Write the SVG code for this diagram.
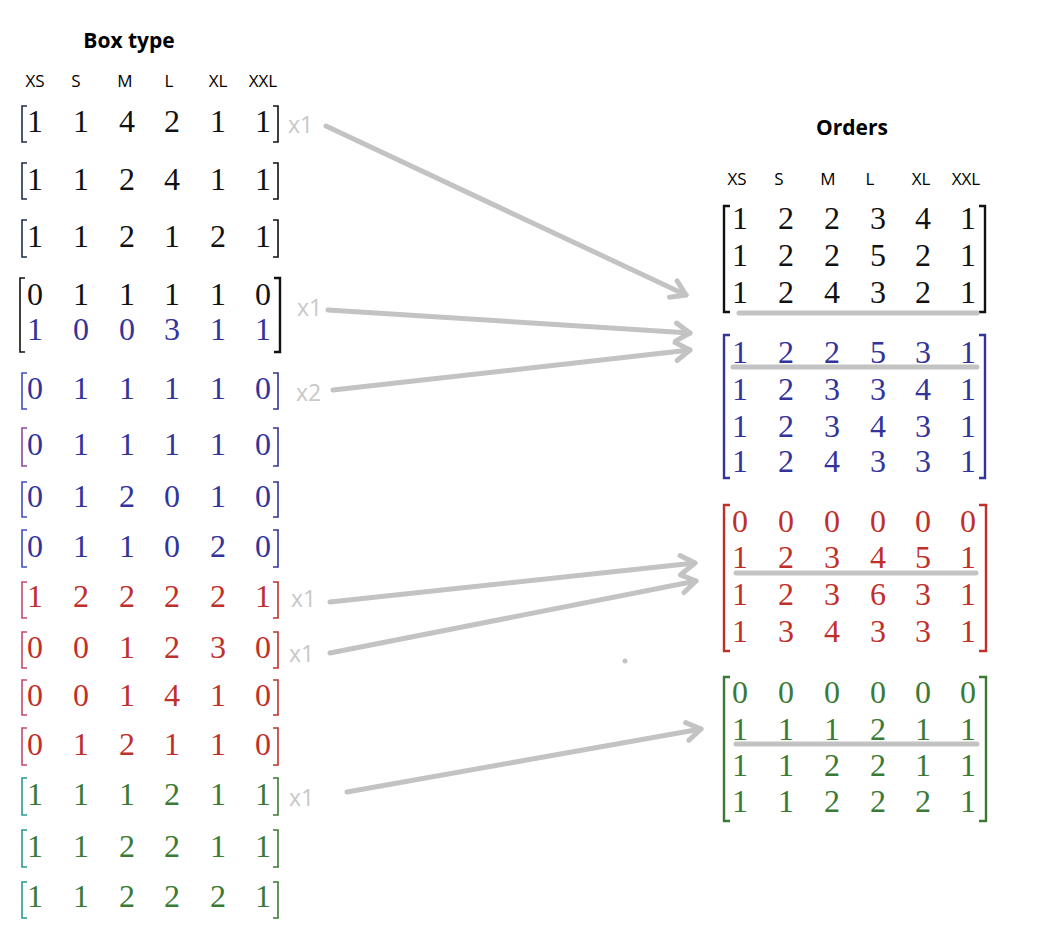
<svg xmlns="http://www.w3.org/2000/svg" width="1064" height="930" viewBox="0 0 1064 930">
<style>
.title{font-family:"Open Sans","Liberation Sans",sans-serif;font-weight:bold;font-size:21px;fill:#000;text-anchor:middle}
.hd{font-family:"Open Sans","Liberation Sans",sans-serif;font-size:17px;fill:#000;text-anchor:middle}
.num text{font-family:"Liberation Serif","DejaVu Serif",serif;font-size:32px;text-anchor:middle}
.num text.mult{font-family:"Open Sans","Liberation Sans",sans-serif;font-size:23px;fill:#c8c8c8;text-anchor:start}
.br{fill:none;stroke-width:1.6}
.k text{fill:#111}.k .br{stroke:#111}.k .lb{stroke:#1e2e50}
.b text{fill:#33339c}.b .br{stroke:#33339c}.b .lb{stroke:#3d4fc0}
.b2 .lb{stroke:#8a4aa0}
.r text{fill:#c0302a}.r .br{stroke:#c0302a}.r .lb{stroke:#c44a70}
.g text{fill:#3b7a35}.g .br{stroke:#3b7a35}.g .lb{stroke:#2a9a95}
.k text.bl{fill:#33339c}
.rb{stroke-width:2.4}
.sep{stroke:#c3c3c3;stroke-width:5;stroke-linecap:round;fill:none}
.conn{stroke:#c3c3c3;stroke-width:5;stroke-linecap:round;fill:none;marker-end:url(#chev)}
</style>
<defs>
<marker id="chev" markerUnits="userSpaceOnUse" markerWidth="30" markerHeight="30" refX="0" refY="0" orient="auto" overflow="visible" viewBox="-20 -15 30 30">
<path d="M-14,-9 L0,0 L-14,9" fill="none" stroke="#c3c3c3" stroke-width="5" stroke-linecap="round" stroke-linejoin="round"/>
</marker>
</defs>
<rect width="1064" height="930" fill="#fff"/>

<g id="box-header">
<text class="title" x="129" y="48">Box type</text>
<text class="hd" x="35" y="87">XS</text>
<text class="hd" x="76" y="87">S</text>
<text class="hd" x="125" y="87">M</text>
<text class="hd" x="169" y="87">L</text>
<text class="hd" x="218" y="87">XL</text>
<text class="hd" x="263" y="87">XXL</text>
</g>

<g id="box1" class="num k">
<path class="br lb" d="M27,106H22V142H27"/><path class="br" d="M273,106H278V142H273"/>
<text x="35" y="132">1</text><text x="81" y="132">1</text><text x="127" y="132">4</text><text x="172" y="132">2</text><text x="218" y="132">1</text><text x="263" y="132">1</text>
<text class="mult" x="288" y="133">x1</text>
</g>
<g id="box2" class="num k">
<path class="br lb" d="M27,163H22V199H27"/><path class="br" d="M273,163H278V199H273"/>
<text x="35" y="190">1</text><text x="81" y="190">1</text><text x="127" y="190">2</text><text x="172" y="190">4</text><text x="218" y="190">1</text><text x="263" y="190">1</text>
</g>
<g id="box3" class="num k">
<path class="br lb" d="M27,220H22V257H27"/><path class="br" d="M273,220H278V257H273"/>
<text x="35" y="247">1</text><text x="81" y="247">1</text><text x="127" y="247">2</text><text x="172" y="247">1</text><text x="218" y="247">2</text><text x="263" y="247">1</text>
</g>
<g id="box4" class="num k">
<path class="br" d="M25,278H20V352H25"/><path class="br rb" d="M274,278H280V352H274"/>
<text x="35" y="305">0</text><text x="81" y="305">1</text><text x="127" y="305">1</text><text x="172" y="305">1</text><text x="218" y="305">1</text><text x="263" y="305">0</text>
<text class="bl" x="35" y="340">1</text><text class="bl" x="81" y="340">0</text><text class="bl" x="127" y="340">0</text><text class="bl" x="172" y="340">3</text><text class="bl" x="218" y="340">1</text><text class="bl" x="263" y="340">1</text>
<text class="mult" x="297" y="316">x1</text>
</g>
<g id="box5" class="num b">
<path class="br lb" d="M27,373H22V409H27"/><path class="br" d="M273,373H278V409H273"/>
<text x="35" y="399">0</text><text x="81" y="399">1</text><text x="127" y="399">1</text><text x="172" y="399">1</text><text x="218" y="399">1</text><text x="263" y="399">0</text>
<text class="mult" x="296" y="401">x2</text>
</g>
<g id="box6" class="num b b2">
<path class="br lb" d="M27,428H22V466H27"/><path class="br" d="M273,428H278V466H273"/>
<text x="35" y="455">0</text><text x="81" y="455">1</text><text x="127" y="455">1</text><text x="172" y="455">1</text><text x="218" y="455">1</text><text x="263" y="455">0</text>
</g>
<g id="box7" class="num b">
<path class="br lb" d="M27,482H22V517H27"/><path class="br" d="M273,482H278V517H273"/>
<text x="35" y="507">0</text><text x="81" y="507">1</text><text x="127" y="507">2</text><text x="172" y="507">0</text><text x="218" y="507">1</text><text x="263" y="507">0</text>
</g>
<g id="box8" class="num b">
<path class="br lb" d="M27,530H22V567H27"/><path class="br" d="M273,530H278V567H273"/>
<text x="35" y="557">0</text><text x="81" y="557">1</text><text x="127" y="557">1</text><text x="172" y="557">0</text><text x="218" y="557">2</text><text x="263" y="557">0</text>
</g>
<g id="box9" class="num r">
<path class="br lb" d="M27,582H22V618H27"/><path class="br" d="M273,582H278V618H273"/>
<text x="35" y="607">1</text><text x="81" y="607">2</text><text x="127" y="607">2</text><text x="172" y="607">2</text><text x="218" y="607">2</text><text x="263" y="607">1</text>
<text class="mult" x="291" y="607">x1</text>
</g>
<g id="box10" class="num r">
<path class="br lb" d="M27,632H22V668H27"/><path class="br" d="M273,632H278V668H273"/>
<text x="35" y="658">0</text><text x="81" y="658">0</text><text x="127" y="658">1</text><text x="172" y="658">2</text><text x="218" y="658">3</text><text x="263" y="658">0</text>
<text class="mult" x="289" y="662">x1</text>
</g>
<g id="box11" class="num r">
<path class="br lb" d="M27,680H22V715H27"/><path class="br" d="M273,680H278V715H273"/>
<text x="35" y="706">0</text><text x="81" y="706">0</text><text x="127" y="706">1</text><text x="172" y="706">4</text><text x="218" y="706">1</text><text x="263" y="706">0</text>
</g>
<g id="box12" class="num r">
<path class="br lb" d="M27,728H22V765H27"/><path class="br" d="M273,728H278V765H273"/>
<text x="35" y="755">0</text><text x="81" y="755">1</text><text x="127" y="755">2</text><text x="172" y="755">1</text><text x="218" y="755">1</text><text x="263" y="755">0</text>
</g>
<g id="box13" class="num g">
<path class="br lb" d="M27,778H22V815H27"/><path class="br" d="M273,778H278V815H273"/>
<text x="35" y="805">1</text><text x="81" y="805">1</text><text x="127" y="805">1</text><text x="172" y="805">2</text><text x="218" y="805">1</text><text x="263" y="805">1</text>
<text class="mult" x="289" y="806">x1</text>
</g>
<g id="box14" class="num g">
<path class="br lb" d="M27,830H22V867H27"/><path class="br" d="M273,830H278V867H273"/>
<text x="35" y="857">1</text><text x="81" y="857">1</text><text x="127" y="857">2</text><text x="172" y="857">2</text><text x="218" y="857">1</text><text x="263" y="857">1</text>
</g>
<g id="box15" class="num g">
<path class="br lb" d="M27,882H22V918H27"/><path class="br" d="M273,882H278V918H273"/>
<text x="35" y="907">1</text><text x="81" y="907">1</text><text x="127" y="907">2</text><text x="172" y="907">2</text><text x="218" y="907">2</text><text x="263" y="907">1</text>
</g>

<g id="orders-header">
<text class="title" x="852" y="135">Orders</text>
<text class="hd" x="737" y="185">XS</text>
<text class="hd" x="779" y="185">S</text>
<text class="hd" x="828" y="185">M</text>
<text class="hd" x="870" y="185">L</text>
<text class="hd" x="921" y="185">XL</text>
<text class="hd" x="966" y="185">XXL</text>
</g>

<g id="order1" class="num k">
<path class="br rb" d="M730,206H724V312H730"/><path class="br rb" d="M979,206H985V312H979"/>
<text x="740" y="229">1</text><text x="786" y="229">2</text><text x="832" y="229">2</text><text x="878" y="229">3</text><text x="923" y="229">4</text><text x="968" y="229">1</text>
<text x="740" y="266">1</text><text x="786" y="266">2</text><text x="832" y="266">2</text><text x="878" y="266">5</text><text x="923" y="266">2</text><text x="968" y="266">1</text>
<text x="740" y="303">1</text><text x="786" y="303">2</text><text x="832" y="303">4</text><text x="878" y="303">3</text><text x="923" y="303">2</text><text x="968" y="303">1</text>
<path class="sep" d="M739,313H977"/>
</g>
<g id="order2" class="num b">
<path class="br rb" d="M730,335H724V478H730"/><path class="br rb" d="M979,335H985V478H979"/>
<text x="740" y="363">1</text><text x="786" y="363">2</text><text x="832" y="363">2</text><text x="878" y="363">5</text><text x="923" y="363">3</text><text x="968" y="363">1</text>
<text x="740" y="400">1</text><text x="786" y="400">2</text><text x="832" y="400">3</text><text x="878" y="400">3</text><text x="923" y="400">4</text><text x="968" y="400">1</text>
<text x="740" y="437">1</text><text x="786" y="437">2</text><text x="832" y="437">3</text><text x="878" y="437">4</text><text x="923" y="437">3</text><text x="968" y="437">1</text>
<text x="740" y="472">1</text><text x="786" y="472">2</text><text x="832" y="472">4</text><text x="878" y="472">3</text><text x="923" y="472">3</text><text x="968" y="472">1</text>
<path class="sep" d="M733,367H977"/>
</g>
<g id="order3" class="num r">
<path class="br rb" d="M730,505H724V651H730"/><path class="br rb" d="M979,505H986V651H979"/>
<text x="740" y="532">0</text><text x="786" y="532">0</text><text x="832" y="532">0</text><text x="878" y="532">0</text><text x="923" y="532">0</text><text x="968" y="532">0</text>
<text x="740" y="568">1</text><text x="786" y="568">2</text><text x="832" y="568">3</text><text x="878" y="568">4</text><text x="923" y="568">5</text><text x="968" y="568">1</text>
<text x="740" y="605">1</text><text x="786" y="605">2</text><text x="832" y="605">3</text><text x="878" y="605">6</text><text x="923" y="605">3</text><text x="968" y="605">1</text>
<text x="740" y="642">1</text><text x="786" y="642">3</text><text x="832" y="642">4</text><text x="878" y="642">3</text><text x="923" y="642">3</text><text x="968" y="642">1</text>
<path class="sep" d="M736,573H976"/>
</g>
<g id="order4" class="num g">
<path class="br rb" d="M730,677H724V821H730"/><path class="br rb" d="M979,677H986V821H979"/>
<text x="740" y="703">0</text><text x="786" y="703">0</text><text x="832" y="703">0</text><text x="878" y="703">0</text><text x="923" y="703">0</text><text x="968" y="703">0</text>
<text x="740" y="740">1</text><text x="786" y="740">1</text><text x="832" y="740">1</text><text x="878" y="740">2</text><text x="923" y="740">1</text><text x="968" y="740">1</text>
<text x="740" y="776">1</text><text x="786" y="776">1</text><text x="832" y="776">2</text><text x="878" y="776">2</text><text x="923" y="776">1</text><text x="968" y="776">1</text>
<text x="740" y="812">1</text><text x="786" y="812">1</text><text x="832" y="812">2</text><text x="878" y="812">2</text><text x="923" y="812">2</text><text x="968" y="812">1</text>
<path class="sep" d="M736,744H977"/>
</g>

<g id="connectors">
<path class="conn" d="M326,126L686,295"/>
<path class="conn" d="M328,310L690,333"/>
<path class="conn" d="M333,390L690,350"/>
<path class="conn" d="M330,602L695,563"/>
<path class="conn" d="M330,653L696,581"/>
<path class="conn" d="M347,792L701,729"/>
</g>
<circle cx="625" cy="661" r="2.5" fill="#c3c3c3"/>
</svg>
